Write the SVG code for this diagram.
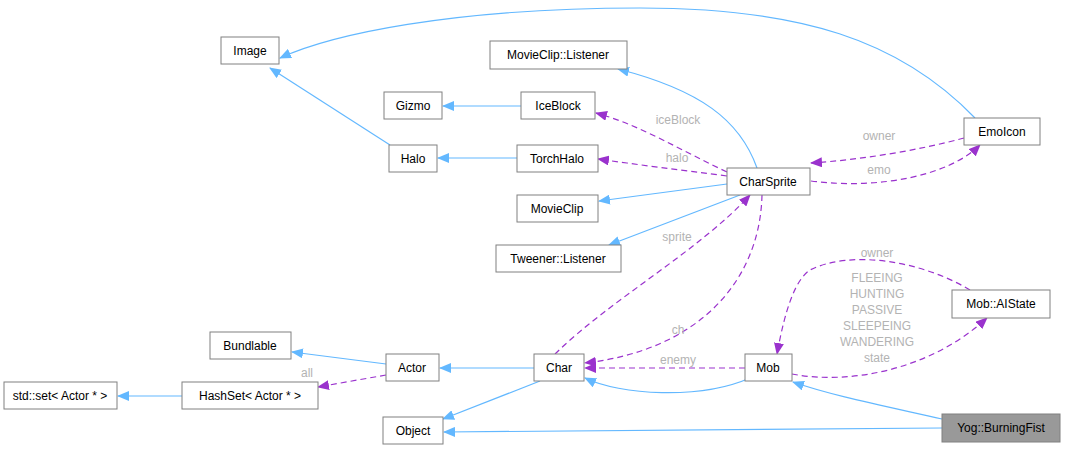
<svg xmlns="http://www.w3.org/2000/svg" width="1065" height="451" viewBox="0 0 1065 451">
<style>
.n rect{fill:#fff;stroke:#808080;stroke-width:1}
.n text{font-family:"Liberation Sans",Arial,sans-serif;font-size:12px;text-anchor:middle;fill:#000}
.i{fill:none;stroke:#63b8ff;stroke-width:1.2}
.u{fill:none;stroke:#9a32cd;stroke-width:1.2;stroke-dasharray:6,4}
.l{font-family:"Liberation Sans",Arial,sans-serif;font-size:12px;fill:#b3b3b3;text-anchor:middle}
</style>
<defs>
<marker id="ai" markerWidth="12" markerHeight="10" refX="11" refY="5" orient="auto" markerUnits="userSpaceOnUse"><path d="M0,0L12,5L0,10z" fill="#63b8ff"/></marker>
<marker id="au" markerWidth="12" markerHeight="10" refX="11" refY="5" orient="auto" markerUnits="userSpaceOnUse"><path d="M0,0L12,5L0,10z" fill="#9a32cd"/></marker>
</defs>
<g id="edges">
<path class="i" d="M975,118C900,40 800,8 640,8C450,8 330,35 280,58" marker-end="url(#ai)"/>
<path class="i" d="M390,145L270,68" marker-end="url(#ai)"/>
<path class="i" d="M521,106L443,106" marker-end="url(#ai)"/>
<path class="i" d="M517,158L438,158" marker-end="url(#ai)"/>
<path class="i" d="M757,168C740,120 700,90 618,69" marker-end="url(#ai)"/>
<path class="i" d="M727,184L599,201" marker-end="url(#ai)"/>
<path class="i" d="M740,195L609,245" marker-end="url(#ai)"/>
<path class="u" d="M727,172C680,150 640,125 596,113" marker-end="url(#au)"/>
<path class="u" d="M727,176C680,170 640,165 598,159" marker-end="url(#au)"/>
<path class="u" d="M964,138C920,150 860,160 811,163" marker-end="url(#au)"/>
<path class="u" d="M811,181C880,190 950,175 980,145" marker-end="url(#au)"/>
<path class="u" d="M555,354C610,300 700,250 750,195" marker-end="url(#au)"/>
<path class="u" d="M762,195C760,280 700,350 585,363" marker-end="url(#au)"/>
<path class="u" d="M745,368L585,368" marker-end="url(#au)"/>
<path class="u" d="M970,290C920,260 850,250 810,270C795,280 785,310 777,354" marker-end="url(#au)"/>
<path class="u" d="M792,374C850,385 930,370 987,318" marker-end="url(#au)"/>
<path class="i" d="M750,378C700,400 620,395 585,378" marker-end="url(#ai)"/>
<path class="i" d="M534,368L440,368" marker-end="url(#ai)"/>
<path class="i" d="M386,364L292,352" marker-end="url(#ai)"/>
<path class="u" d="M386,375L318,387" marker-end="url(#au)"/>
<path class="i" d="M182,396L118,396" marker-end="url(#ai)"/>
<path class="i" d="M540,381L443,419" marker-end="url(#ai)"/>
<path class="i" d="M942,428L444,432" marker-end="url(#ai)"/>
<path class="i" d="M942,419C880,405 830,395 793,382" marker-end="url(#ai)"/>
<text class="l" x="678" y="124">iceBlock</text>
<text class="l" x="677" y="162">halo</text>
<text class="l" x="879" y="140">owner</text>
<text class="l" x="879" y="174">emo</text>
<text class="l" x="677" y="241">sprite</text>
<text class="l" x="678" y="334">ch</text>
<text class="l" x="678" y="364">enemy</text>
<text class="l" x="307" y="377">all</text>
<text class="l" x="877" y="257">owner</text>
<text class="l" x="877" y="282">FLEEING</text>
<text class="l" x="877" y="298">HUNTING</text>
<text class="l" x="877" y="314">PASSIVE</text>
<text class="l" x="877" y="330">SLEEPEING</text>
<text class="l" x="877" y="346">WANDERING</text>
<text class="l" x="877" y="362">state</text>
</g>
<g id="Image" class="n"><rect x="221" y="37" width="58" height="27"/><text x="250" y="55">Image</text></g>
<g id="Gizmo" class="n"><rect x="384" y="92" width="58" height="27"/><text x="413" y="110">Gizmo</text></g>
<g id="Halo" class="n"><rect x="389" y="145" width="48" height="27"/><text x="413" y="163">Halo</text></g>
<g id="IceBlock" class="n"><rect x="521" y="92" width="74" height="27"/><text x="558" y="110">IceBlock</text></g>
<g id="MovieClipListener" class="n"><rect x="490" y="41" width="137" height="28"/><text x="558" y="59">MovieClip::Listener</text></g>
<g id="TorchHalo" class="n"><rect x="517" y="145" width="81" height="27"/><text x="557" y="163">TorchHalo</text></g>
<g id="CharSprite" class="n"><rect x="727" y="168" width="83" height="27"/><text x="768" y="186">CharSprite</text></g>
<g id="MovieClip" class="n"><rect x="517" y="195" width="81" height="27"/><text x="557" y="213">MovieClip</text></g>
<g id="TweenerListener" class="n"><rect x="496" y="245" width="125" height="27"/><text x="558" y="263">Tweener::Listener</text></g>
<g id="EmoIcon" class="n"><rect x="964" y="118" width="76" height="27"/><text x="1002" y="136">EmoIcon</text></g>
<g id="Bundlable" class="n"><rect x="210" y="332" width="81" height="27"/><text x="250" y="350">Bundlable</text></g>
<g id="Actor" class="n"><rect x="386" y="354" width="53" height="27"/><text x="412" y="372">Actor</text></g>
<g id="stdset" class="n"><rect x="4" y="382" width="113" height="27"/><text x="60" y="400">std::set&lt; Actor * &gt;</text></g>
<g id="HashSet" class="n"><rect x="182" y="382" width="136" height="27"/><text x="250" y="400">HashSet&lt; Actor * &gt;</text></g>
<g id="Char" class="n"><rect x="534" y="354" width="50" height="27"/><text x="559" y="372">Char</text></g>
<g id="Object" class="n"><rect x="383" y="417" width="60" height="27"/><text x="413" y="435">Object</text></g>
<g id="Mob" class="n"><rect x="745" y="354" width="47" height="27"/><text x="768" y="372">Mob</text></g>
<g id="MobAIState" class="n"><rect x="952" y="290" width="98" height="28"/><text x="1001" y="308">Mob::AIState</text></g>
<g id="YogBurningFist" class="n"><rect x="942" y="414" width="118" height="28" style="fill:#999"/><text x="1001" y="432">Yog::BurningFist</text></g>
</svg>
